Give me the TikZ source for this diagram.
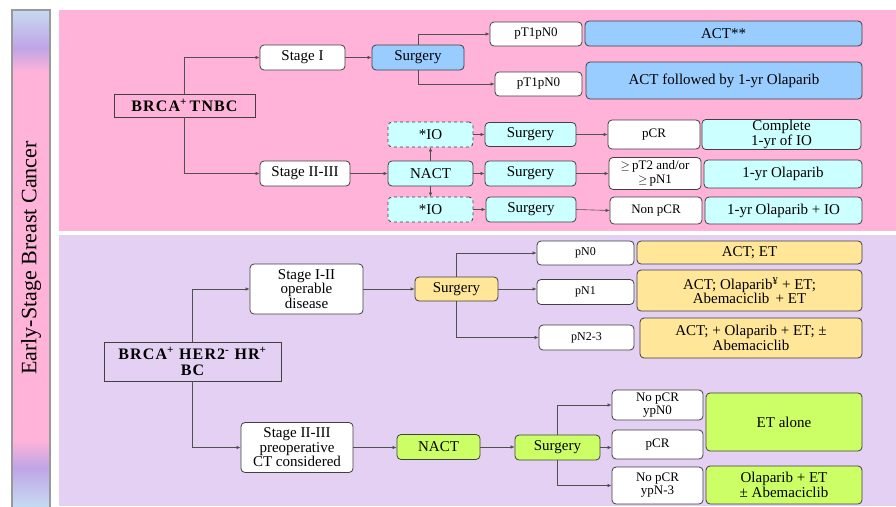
\documentclass[tikz,border=0pt]{standalone}
\usepackage{fontspec}
\setmainfont{Liberation Serif}
\newfontfamily\headfont{Liberation Serif}[LetterSpace=7]
\usetikzlibrary{arrows.meta}
\definecolor{pinkbg}{HTML}{FFB3D9}
\definecolor{lavbg}{HTML}{E3D0F3}
\definecolor{bluebox}{HTML}{99CCFF}
\definecolor{cyanbox}{HTML}{CCFFFF}
\definecolor{yelbox}{HTML}{FFE699}
\definecolor{grnbox}{HTML}{CCFF66}
\definecolor{edgec}{HTML}{404040}
\definecolor{linec}{HTML}{505050}
\definecolor{barblue}{HTML}{C6D9F1}
\definecolor{barpurp}{HTML}{BFA5E6}
\definecolor{barpink}{HTML}{FFB3D9}
\begin{document}
\begin{tikzpicture}[x=1pt,y=-1pt,
  box/.style={draw=edgec, line width=0.8pt, rounded corners=4pt, inner sep=1pt, align=center,
              font=\fontsize{15}{14.5}\selectfont},
  sz/.style 2 args={minimum width=#1pt, minimum height=#2pt},
  small/.style={font=\fontsize{13}{13}\selectfont},
  tiny/.style={font=\fontsize{12}{12}\selectfont},
  wbox/.style={box, fill=white},
  bbox/.style={box, fill=bluebox},
  cbox/.style={box, fill=cyanbox},
  dbox/.style={box, fill=cyanbox, dashed},
  ybox/.style={box, fill=yelbox},
  gbox/.style={box, fill=grnbox},
  hbox/.style={draw=edgec, line width=0.8pt, fill=none, inner sep=1pt, align=center,
              font=\headfont\bfseries\fontsize{16}{16}\selectfont},
  arr/.style={draw=linec, line width=0.6pt, -{Latex[length=4pt,width=3.5pt]}}
]
\useasboundingbox (0,0) rectangle (896,506);
\fill[white] (0,0) rectangle (896,506);
% left bar
\shade[top color=barblue, bottom color=barpurp] (12,10) rectangle (50,48);
\shade[top color=barpurp, bottom color=barpink] (12,48) rectangle (50,72);
\fill[barpink] (12,72) rectangle (50,440);
\shade[top color=barpink, bottom color=barpurp] (12,440) rectangle (50,468);
\shade[top color=barpurp, bottom color=barblue] (12,468) rectangle (50,506);
\draw[gray!80, line width=2pt] (12,507) -- (12,10) -- (50,10) -- (50,507);
\node[rotate=90, font=\fontsize{22}{22}\selectfont] (side) at (31,258) {Early-Stage Breast Cancer};
% panels
\fill[pinkbg] (59,10) rectangle (896,231);
\fill[lavbg] (59,235) rectangle (896,506);

% ---------- top section ----------
\node[hbox, sz={141}{23}] (tnbc) at (184.5,105.5) {BRCA\textsuperscript{+}\,TNBC};
\node[wbox, sz={85}{25}] (st1) at (302.5,57.5) {Stage I};
\node[bbox, sz={92}{25}] (surg1) at (418,57.5) {Surgery};
\node[wbox, small, sz={92}{24}] (pa) at (536,34) {pT1pN0};
\node[bbox, sz={277}{25}] (acta) at (723.5,33.5) {ACT**};
\node[wbox, small, sz={87}{24}] (pb) at (538.5,84) {pT1pN0};
\node[bbox, sz={276}{37}] (actb) at (724,80.5) {ACT followed by 1-yr Olaparib};

\node[dbox, sz={85}{25}] (io1) at (430.5,134.5) {*IO};
\node[cbox, sz={91}{24}] (s2) at (530.5,134.5) {Surgery};
\node[wbox, small, sz={92}{29}] (pcr) at (654,134.5) {pCR};
\node[cbox, sz={159}{29}] (comp) at (781.5,134.5) {Complete\\1-yr of IO};

\node[wbox, sz={90}{25}] (st23) at (305,173.5) {Stage II-III};
\node[cbox, sz={85}{25}] (nact) at (430.5,173.5) {NACT};
\node[cbox, sz={91}{25}] (s3) at (530.5,173.5) {Surgery};
\node[wbox, sz={92}{32}, font=\fontsize{13}{14}\selectfont] (pt2) at (655,173.5) {$\geq$\,pT2 and/or\\$\geq$\,pN1};
\node[cbox, sz={158}{28}] (ola) at (783,174) {1-yr Olaparib};

\node[dbox, sz={85}{25}] (io2) at (430.5,209.5) {*IO};
\node[cbox, sz={90}{25}] (s4) at (531,209.5) {Surgery};
\node[wbox, small, sz={92}{27}] (npcr) at (656,210.5) {Non pCR};
\node[cbox, sz={157}{27}] (olaio) at (783.5,210.5) {1-yr Olaparib + IO};

\draw[arr] (tnbc.north) |- (st1.west);
\draw[arr] (tnbc.south) |- (st23.west);
\draw[arr] (st1.east) -- (surg1.west);
\draw[arr] (surg1.north) |- (pa.west);
\draw[arr] (surg1.south) |- (pb.west);
\draw[arr] (st23.east) -- (nact.west);
\draw[arr] (nact.north) -- (io1.south);
\draw[arr] (nact.south) -- (io2.north);
\draw[arr] (io1.east) -- (s2.west);
\draw[arr] (nact.east) -- (s3.west);
\draw[arr] (io2.east) -- (s4.west);
\draw[arr] (s2.east) -- (pcr.west);
\draw[arr] (s3.east) -- (pt2.west);
\draw[arr] (s4.east) -- (npcr.west);

% ---------- bottom section ----------
\node[hbox, sz={177}{39}, font=\headfont\bfseries\fontsize{16}{16.5}\selectfont] (bc) at (192.5,361.5) {BRCA\textsuperscript{+} HER2\textsuperscript{-} HR\textsuperscript{+}\\BC};
\node[wbox, sz={113}{50}] (s12) at (306.5,289) {Stage I-II\\operable\\disease};
\node[ybox, sz={83}{24}] (surgy) at (456.5,289) {Surgery};
\node[wbox, tiny, sz={97}{24}] (pn0) at (585.5,253) {pN0};
\node[ybox, sz={225}{23}] (actet) at (749.5,252.5) {ACT; ET};
\node[wbox, tiny, sz={97}{25}] (pn1) at (585.5,292) {pN1};
\node[ybox, sz={225}{41}] (actola) at (749.5,290.5) {ACT; Olaparib\textsuperscript{¥} + ET;\\Abemaciclib \,+ ET};
\node[wbox, tiny, sz={95}{25}] (pn23) at (586.5,337.5) {pN2-3};
\node[ybox, sz={222}{40}] (actpm) at (751,338) {ACT; + Olaparib + ET; ±\\Abemaciclib};

\node[wbox, sz={112}{50}] (s23b) at (297,447.5) {Stage II-III\\preoperative\\CT considered};
\node[gbox, sz={83}{25}] (nactg) at (438.5,447) {NACT};
\node[gbox, sz={85}{25}] (surgg) at (557.5,447.5) {Surgery};
\node[wbox, small, sz={91}{30}] (nyp0) at (657.5,405) {No pCR\\ypN0};
\node[wbox, small, sz={91}{29}] (pcrg) at (657.5,444.5) {pCR};
\node[gbox, sz={156}{58}] (etal) at (784,422) {ET alone};
\node[wbox, small, sz={91}{37}] (nyp3) at (657.5,485.5) {No pCR\\ypN-3};
\node[gbox, sz={156}{38}] (olaet) at (784,485) {Olaparib + ET\\± Abemaciclib};

\draw[arr] (bc.north) |- (s12.west);
\draw[arr] (bc.south) |- (s23b.west);
\draw[arr] (s12.east) -- (s12.east -| surgy.west);
\draw[arr] (surgy.east) -- (surgy.east -| pn1.west);
\draw[arr] (surgy.north) |- (pn0.west);
\draw[arr] (surgy.south) |- (pn23.west);
\draw[arr] (s23b.east) -- (s23b.east -| nactg.west);
\draw[arr] (nactg.east) -- (nactg.east -| surgg.west);
\draw[arr] (surgg.east) -- (surgg.east -| pcrg.west);
\draw[arr] (surgg.north) |- (nyp0.west);
\draw[arr] (surgg.south) |- (nyp3.west);
\end{tikzpicture}
\end{document}
